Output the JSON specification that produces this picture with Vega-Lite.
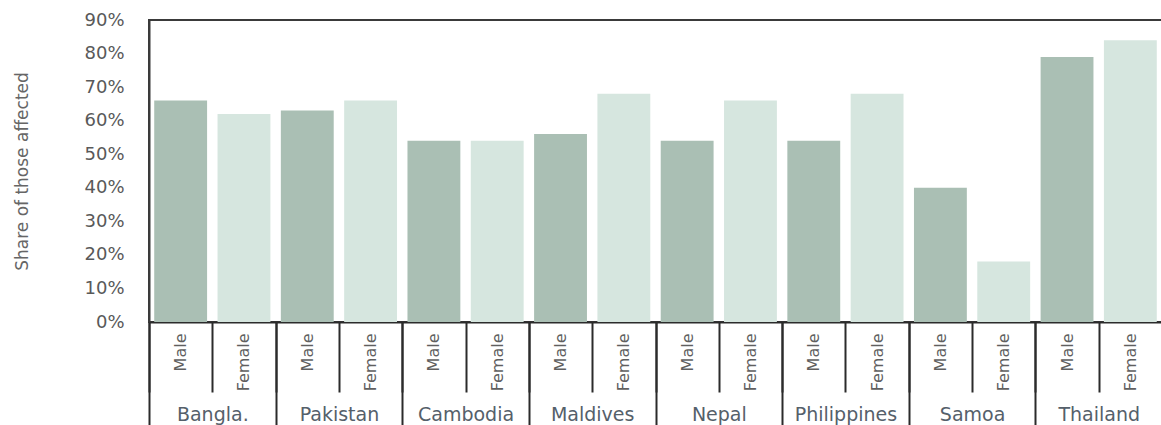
{
  "$schema": "https://vega.github.io/schema/vega-lite/v6.json",
  "width": 1013,
  "height": 302,
  "autosize": {"type": "none"},
  "padding": {"left": 149, "top": 20, "right": 0, "bottom": 103},
  "background": "white",
  "view": {"stroke": "#3a3a3a", "strokeWidth": 2},
  "data": {
    "values": [
      {"country": "Bangla.", "sex": "Male", "slot": "Bangla.|Male", "share": 0.66},
      {"country": "Bangla.", "sex": "Female", "slot": "Bangla.|Female", "share": 0.62},
      {"country": "Pakistan", "sex": "Male", "slot": "Pakistan|Male", "share": 0.63},
      {"country": "Pakistan", "sex": "Female", "slot": "Pakistan|Female", "share": 0.66},
      {"country": "Cambodia", "sex": "Male", "slot": "Cambodia|Male", "share": 0.54},
      {"country": "Cambodia", "sex": "Female", "slot": "Cambodia|Female", "share": 0.54},
      {"country": "Maldives", "sex": "Male", "slot": "Maldives|Male", "share": 0.56},
      {"country": "Maldives", "sex": "Female", "slot": "Maldives|Female", "share": 0.68},
      {"country": "Nepal", "sex": "Male", "slot": "Nepal|Male", "share": 0.54},
      {"country": "Nepal", "sex": "Female", "slot": "Nepal|Female", "share": 0.66},
      {"country": "Philippines", "sex": "Male", "slot": "Philippines|Male", "share": 0.54},
      {"country": "Philippines", "sex": "Female", "slot": "Philippines|Female", "share": 0.68},
      {"country": "Samoa", "sex": "Male", "slot": "Samoa|Male", "share": 0.40},
      {"country": "Samoa", "sex": "Female", "slot": "Samoa|Female", "share": 0.18},
      {"country": "Thailand", "sex": "Male", "slot": "Thailand|Male", "share": 0.79},
      {"country": "Thailand", "sex": "Female", "slot": "Thailand|Female", "share": 0.84}
    ]
  },
  "encoding": {
    "y": {
      "field": "share",
      "type": "quantitative",
      "scale": {"domain": [0, 0.9], "nice": false},
      "axis": {
        "title": "Share of those affected",
        "titleFont": "DejaVu Sans",
        "titleFontSize": 17,
        "titleFontWeight": "normal",
        "titleColor": "#666666",
        "titlePadding": 52,
        "format": ".0%",
        "values": [0, 0.1, 0.2, 0.3, 0.4, 0.5, 0.6, 0.7, 0.8, 0.9],
        "labelFont": "DejaVu Sans",
        "labelFontSize": 18,
        "labelColor": "#595959",
        "labelPadding": 25,
        "ticks": false,
        "grid": false,
        "domain": true,
        "domainColor": "#3a3a3a",
        "domainWidth": 2
      }
    }
  },
  "layer": [
    {
      "mark": {"type": "bar", "width": {"band": 0.835}},
      "encoding": {
        "x": {
          "field": "slot",
          "type": "nominal",
          "sort": null,
          "scale": {"paddingInner": 0, "paddingOuter": 0},
          "axis": {
            "orient": "bottom",
            "title": null,
            "labelExpr": "split(datum.label, '|')[1]",
            "labelAngle": -90,
            "labelAlign": "right",
            "labelBaseline": "middle",
            "labelFont": "DejaVu Sans",
            "labelFontSize": 16,
            "labelColor": "#5f5f5f",
            "labelPadding": -59,
            "labelOverlap": false,
            "tickBand": "extent",
            "tickSize": 70,
            "tickColor": "#2b2b2b",
            "tickWidth": 2,
            "domainColor": "#2b2b2b",
            "domainWidth": 2,
            "grid": false
          }
        },
        "color": {
          "field": "sex",
          "type": "nominal",
          "scale": {"domain": ["Male", "Female"], "range": ["#aabfb4", "#d6e6df"]},
          "legend": null
        }
      }
    },
    {
      "mark": {"type": "point", "opacity": 0},
      "encoding": {
        "x": {
          "field": "country",
          "type": "nominal",
          "sort": null,
          "scale": {"paddingInner": 0, "paddingOuter": 0},
          "axis": {
            "orient": "bottom",
            "title": null,
            "labelAngle": 0,
            "labelFont": "DejaVu Sans",
            "labelFontSize": 19,
            "labelColor": "#55606a",
            "labelPadding": -20,
            "tickBand": "extent",
            "tickSize": 103,
            "tickColor": "#2b2b2b",
            "tickWidth": 2,
            "domain": false,
            "grid": false
          }
        }
      }
    }
  ],
  "resolve": {"scale": {"x": "independent"}, "axis": {"x": "independent"}}
}
